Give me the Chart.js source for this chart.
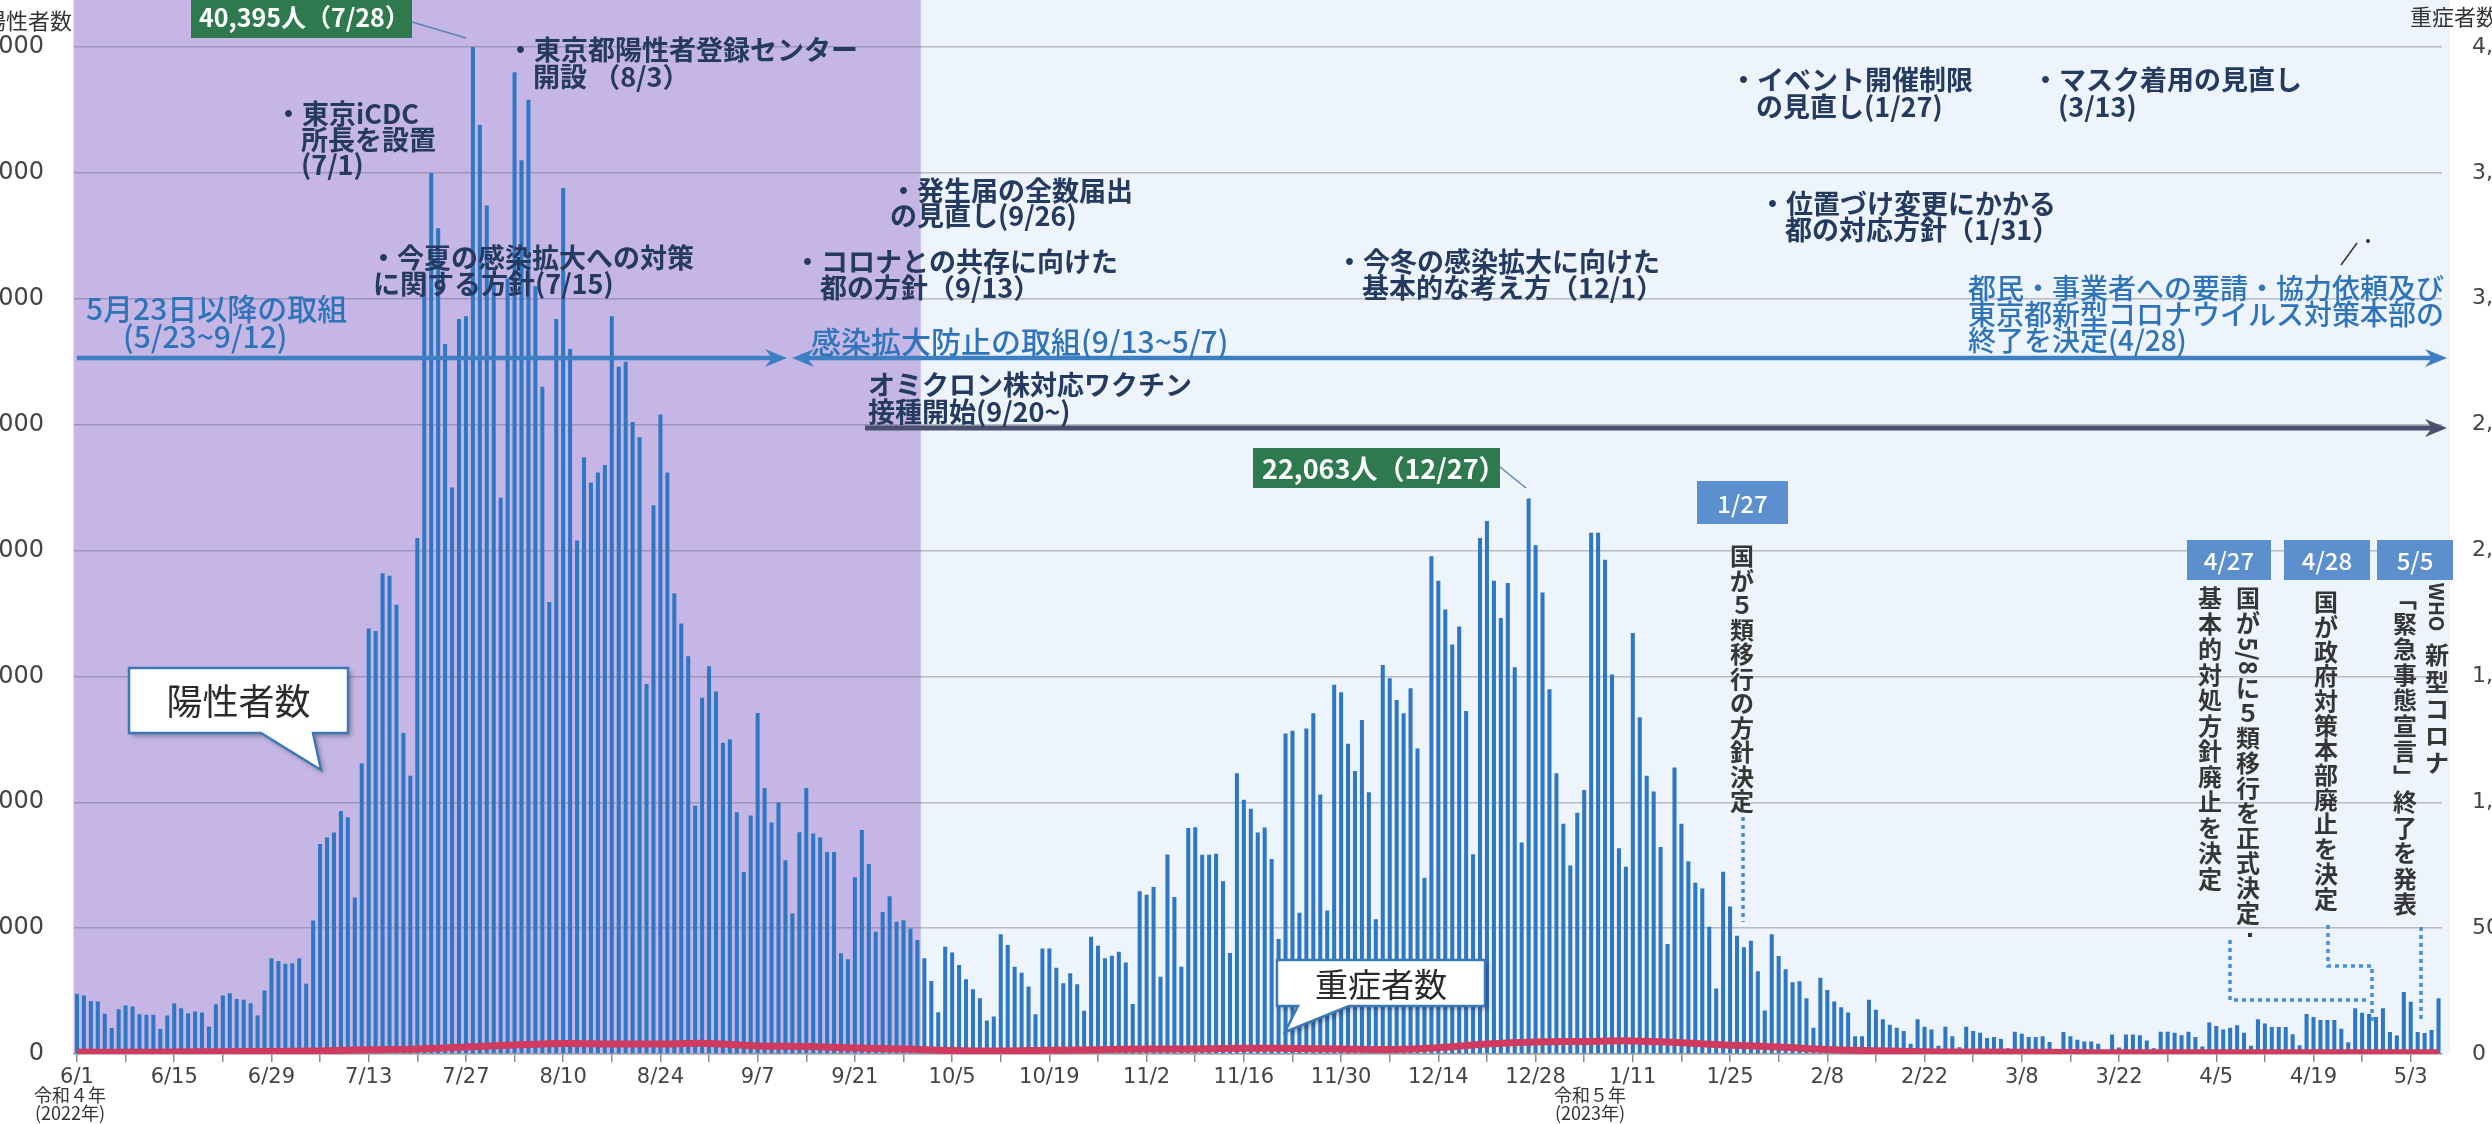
<!DOCTYPE html>
<html><head><meta charset="utf-8">
<script src="https://cdn.jsdelivr.net/npm/chart.js@4.4.0/dist/chart.umd.min.js"></script>
<style>
html,body{margin:0;padding:0;background:#fff;overflow:hidden;width:2492px;height:1124px;}
#wrap{position:relative;width:2492px;height:1124px;overflow:hidden;background:#fff;}
#c{position:absolute;left:-60px;top:0;}
</style></head><body>
<div id="wrap"><canvas id="c" width="2612" height="1124"></canvas></div>
<script>
// ---------- data ----------
const startDate = [2022, 6, 1];
const endDate = [2023, 5, 7];
const tickLabels = ['6/1','6/15','6/29','7/13','7/27','8/10','8/24','9/7','9/21','10/5','10/19','11/2','11/16','11/30','12/14','12/28','1/11','1/25','2/8','2/22','3/8','3/22','4/5','4/19','5/3'];

const posJun = [2390,2320,2110,2085,1600,1030,1780,1925,1890,1580,1560,1560,990,1530,2020,1820,1620,1690,1650,1095,1980,2320,2410,2180,2150,2020,1530,2520,3800,3690];
const posJul = [3580,3600,3800,2790,5300,8340,8600,8800,9650,9400,6220,11550,16900,16800,19100,19000,17850,12750,11050,20500,31000,35000,32800,28200,22500,29200,29300,40395,36900,33700,30600];
const posAug = [22100,30800,39000,35500,37900,30500,26500,17950,29200,34400,28000,20400,23700,22700,23100,23400,29300,27300,27500,25100,24500,14700,21800,25400,23100,18300,17100,15800,9860,14150,15400];
const posSep = [14400,12360,12500,9600,7230,9470,13550,10570,9200,9990,7700,5580,8810,10570,8760,8600,8020,8020,4000,3760,7020,8900,7550,4860,5645,6265,5250,5315,4985,4525];
const posOct = [3800,2900,1660,4260,4035,3535,2970,2570,2215,1330,1490,4760,4325,3470,3230,2680,1580,4195,4195,3430,2810,3205,2770,1715,4655,4300,3800,3900,4060,3630,1990];
const posNov = [6460,6330,6630,3070,7925,6240,3470,8980,9010,7910,7910,7950,6860,4010,11150,10100,9740,8800,9000,7750,4570,12730,12840,5610,12930,13540,10310,5700,14670,14370];
const posDec = [12320,11240,13270,10400,5350,15450,14930,14060,13540,14530,12140,7000,19770,18800,17660,16270,16980,13620,7930,20500,21170,18800,17320,18710,15360,8400,22063,20210,18330,14490,11150];
const posJan = [9150,7490,9580,10490,20710,20710,19630,15070,8170,7440,16720,13380,11050,10430,8220,4370,11380,9150,7660,6800,6570,5050,2600,7240,5860,4700,4240,4500,3290,1730,4760];
const posFeb = [3890,3370,2850,2890,2210,1040,3030,2540,2090,1860,1650,705,705,2150,1760,1380,1165,1045,910,405,1380,1085,975,325,1085,705,270,1085];
const posMar = [910,840,640,680,600,230,880,800,680,680,705,475,165,870,705,570,500,500,405,135,770,260,770,770,745,540,230,880,880,840,745];
const posApr = [880,680,300,1250,1110,975,1045,1140,840,325,1380,1210,1070,1070,1070,780,350,1590,1470,1350,1350,1350,1000,470,1820,1640,1590,1470,1820,870];
const posMay = [730,2460,2080,870,830,950,2210];

const severeDates  = ['6/1','6/8','6/15','6/22','6/29','7/6','7/13','7/20','7/27','8/3','8/10','8/17','8/24','8/31','9/7','9/14','9/21','9/28','10/5','10/12','10/19','10/26','11/2','11/9','11/16','11/23','11/30','12/7','12/14','12/21','12/28','1/4','1/11','1/18','1/25','2/1','2/8','2/15','2/22','3/1','3/8','3/15','3/22','3/29','4/5','4/12','4/19','4/26','5/3','5/7'];
const severeValues = [8,7,8,9,10,12,17,20,28,36,42,40,40,42,32,30,24,20,14,12,15,17,20,20,23,22,20,18,25,40,48,50,52,45,35,28,18,13,9,8,7,6,5,5,5,5,5,5,5,5];

// ---------- derived ----------
const labels = (() => {
  const out = [];
  const d = new Date(startDate[0], startDate[1]-1, startDate[2]);
  const e = new Date(endDate[0], endDate[1]-1, endDate[2]);
  while (d <= e) { out.push((d.getMonth()+1) + '/' + d.getDate()); d.setDate(d.getDate()+1); }
  return out;
})();
const positives = [].concat(posJun,posJul,posAug,posSep,posOct,posNov,posDec,posJan,posFeb,posMar,posApr,posMay);
const severePoints = severeDates.map((d,i) => ({x:d, y:severeValues[i]}));

const OFF = 60;            // canvas overhang to the left (axis labels are cropped like the scan)
const CW = 2612;
const PLOT_LEFT = 73.5, PLOT_RIGHT = 2442;
const X = x => x + OFF;
const JP = '"Noto Sans CJK JP", "Noto Sans CJK SC", sans-serif';

const annPlugin = {
  id: 'ann',
  beforeDraw(chart) {
    const {ctx, chartArea: a, scales: {x}} = chart;
    const bw = (a.right - a.left) / labels.length;
    const bx = x.getPixelForValue(labels.indexOf('10/1')) - bw/2;
    ctx.save();
    ctx.fillStyle = '#c5b6e5';
    ctx.fillRect(a.left, 0, bx - a.left, a.bottom);
    ctx.fillStyle = '#eef4fb';
    ctx.fillRect(bx, 0, a.right + 8 - bx, a.bottom);
    ctx.restore();
  },
  afterDraw(chart) {
    const ctx = chart.ctx;
    ctx.save();
    const text = (s, x, y, font, color, align) => {
      ctx.font = font; ctx.fillStyle = color; ctx.textAlign = align || 'left'; ctx.textBaseline = 'middle';
      ctx.fillText(s, X(x), y);
    };
    const vtext = (s, cx, y0, step, font, color) => {
      ctx.font = font; ctx.fillStyle = color; ctx.textAlign = 'center'; ctx.textBaseline = 'middle';
      [...s].forEach((ch, k) => ctx.fillText(ch, X(cx), y0 + k*step));
    };
    const rot = (s, cx, cy, font, color) => {
      ctx.save(); ctx.translate(X(cx), cy); ctx.rotate(Math.PI/2);
      ctx.font = font; ctx.fillStyle = color; ctx.textAlign = 'center'; ctx.textBaseline = 'middle';
      ctx.fillText(s, 0, 0); ctx.restore();
    };
    const arrow = (x1, x2, y, col, w, startHead, endHead) => {
      ctx.strokeStyle = col; ctx.fillStyle = col; ctx.lineWidth = w; ctx.lineCap = 'butt';
      ctx.beginPath(); ctx.moveTo(X(x1 + (startHead ? 12 : 0)), y); ctx.lineTo(X(x2 - (endHead ? 12 : 0)), y); ctx.stroke();
      if (endHead) { ctx.beginPath(); ctx.moveTo(X(x2), y); ctx.lineTo(X(x2-22), y-9); ctx.lineTo(X(x2-15), y); ctx.lineTo(X(x2-22), y+9); ctx.closePath(); ctx.fill(); }
      if (startHead) { ctx.beginPath(); ctx.moveTo(X(x1), y); ctx.lineTo(X(x1+22), y-9); ctx.lineTo(X(x1+15), y); ctx.lineTo(X(x1+22), y+9); ctx.closePath(); ctx.fill(); }
    };
    const dotted = (pts) => {
      ctx.strokeStyle = '#4a8fd6'; ctx.lineWidth = 3.5; ctx.setLineDash([4,4]);
      ctx.beginPath(); pts.forEach((p,k) => k ? ctx.lineTo(X(p[0]), p[1]) : ctx.moveTo(X(p[0]), p[1])); ctx.stroke();
      ctx.setLineDash([]);
    };
    const callout = (x1, y1, x2, y2, tb1, tb2, tx, ty, label, size) => {
      ctx.save();
      ctx.beginPath();
      ctx.moveTo(X(x1), y1); ctx.lineTo(X(x2), y1); ctx.lineTo(X(x2), y2);
      ctx.lineTo(X(tb2), y2); ctx.lineTo(X(tx), ty); ctx.lineTo(X(tb1), y2);
      ctx.lineTo(X(x1), y2); ctx.closePath();
      ctx.shadowColor = 'rgba(0,0,0,0.35)'; ctx.shadowBlur = 5; ctx.shadowOffsetX = 3; ctx.shadowOffsetY = 3;
      ctx.fillStyle = '#ffffff'; ctx.fill();
      ctx.shadowColor = 'transparent';
      ctx.strokeStyle = '#3c78b6'; ctx.lineWidth = 2.5; ctx.stroke();
      ctx.restore();
      text(label, (x1+x2)/2, (y1+y2)/2 + 1, size + 'px ' + JP, '#2a2a2a', 'center');
    };
    const dateBox = (s, x, y, w, h) => {
      ctx.fillStyle = '#5b8fcd'; ctx.fillRect(X(x), y, w, h);
      text(s, x + w/2, y + h/2 + 1, '500 24px ' + JP, '#ffffff', 'center');
    };

    // axis titles (cropped at the edges like the source)
    text('陽性者数', 72, 21, '22px ' + JP, '#333', 'right');
    text('重症者数', 2410, 17, '22px ' + JP, '#333', 'left');

    // era labels under the axis
    text('令和４年', 70, 1095, '18px ' + JP, '#333', 'center');
    text('(2022年)', 70, 1113, '18px ' + JP, '#333', 'center');
    text('令和５年', 1590, 1095, '18px ' + JP, '#333', 'center');
    text('(2023年)', 1590, 1113, '18px ' + JP, '#333', 'center');

    // arrows
    arrow(77, 787, 358, '#3d7fc2', 4.5, false, true);
    arrow(792, 2447, 358, '#3d7fc2', 4.5, true, true);
    arrow(865, 2447, 428, '#4a5070', 5, false, true);

    // navy bold notes
    const navy = '#243a5e', nf = 'bold 27px ' + JP;
    [
      ['・東京都陽性者登録センター', 507, 50], ['開設 （8/3）', 533, 77],
      ['・東京iCDC', 275, 114], ['所長を設置', 301, 140], ['(7/1)', 301, 165],
      ['・今夏の感染拡大への対策', 370, 258], ['に関する方針(7/15)', 373, 284],
      ['・発生届の全数届出', 890, 191], ['の見直し(9/26)', 890, 216],
      ['・コロナとの共存に向けた', 794, 262], ['都の方針（9/13）', 820, 288],
      ['・今冬の感染拡大に向けた', 1336, 262], ['基本的な考え方（12/1）', 1362, 288],
      ['オミクロン株対応ワクチン', 868, 385], ['接種開始(9/20~)', 868, 412],
      ['・イベント開催制限', 1730, 80], ['の見直し(1/27)', 1756, 107],
      ['・マスク着用の見直し', 2032, 80], ['(3/13)', 2058, 107],
      ['・位置づけ変更にかかる', 1759, 204], ['都の対応方針（1/31）', 1785, 230]
    ].forEach(([s,x,y]) => text(s, x, y, nf, navy));

    // blue notes
    const blueC = '#2f74b8';
    text('5月23日以降の取組', 86, 309, '500 30px ' + JP, blueC);
    text('(5/23~9/12)', 123, 337, '500 30px ' + JP, blueC);
    text('感染拡大防止の取組(9/13~5/7)', 811, 342, '500 30px ' + JP, blueC);
    text('都民・事業者への要請・協力依頼及び', 1968, 288, '500 28px ' + JP, blueC);
    text('東京都新型コロナウイルス対策本部の', 1968, 314, '500 28px ' + JP, blueC);
    text('終了を決定(4/28)', 1968, 340, '500 28px ' + JP, blueC);
    // small leader near the 4/28 note
    ctx.strokeStyle = '#333'; ctx.lineWidth = 1.5;
    ctx.beginPath(); ctx.moveTo(X(2341), 265); ctx.lineTo(X(2357), 243); ctx.stroke();
    ctx.fillStyle = '#333'; ctx.beginPath(); ctx.arc(X(2368), 241, 2, 0, Math.PI*2); ctx.fill();

    // peak labels
    ctx.fillStyle = '#2e7a4e'; ctx.fillRect(X(191), -2, 221, 40);
    text('40,395人（7/28）', 199, 17, 'bold 25px ' + JP, '#ffffff');
    ctx.strokeStyle = '#5b87b5'; ctx.lineWidth = 1.5;
    ctx.beginPath(); ctx.moveTo(X(412), 22); ctx.lineTo(X(466), 38); ctx.stroke();
    ctx.fillStyle = '#2e7a4e'; ctx.fillRect(X(1253), 448, 247, 40);
    text('22,063人（12/27）', 1262, 469, 'bold 27px ' + JP, '#ffffff');
    ctx.strokeStyle = '#5b87b5'; ctx.lineWidth = 1.5;
    ctx.beginPath(); ctx.moveTo(X(1500), 467); ctx.lineTo(X(1526), 488); ctx.stroke();

    // callouts
    callout(129, 668, 348, 733, 261, 313, 321, 770, '陽性者数', 36);
    callout(1277, 960, 1485, 1006, 1298, 1349, 1285, 1032, '重症者数', 33);

    // date boxes
    dateBox('1/27', 1697, 481, 91, 43);
    dateBox('4/27', 2187, 540, 84, 40);
    dateBox('4/28', 2284, 540, 86, 40);
    dateBox('5/5', 2377, 540, 76, 40);

    // vertical notes
    const vf = 'bold 24px ' + JP, vc = '#363636';
    vtext('国が５類移行の方針決定', 1742, 556, 24.5, vf, vc);
    vtext('国が', 2248, 598, 25, vf, vc);
    rot('5/8', 2248, 656, vf, vc);
    vtext('に５類移行を正式決定', 2248, 688, 25, vf, vc);
    vtext('基本的対処方針廃止を決定', 2210, 598, 25.5, vf, vc);
    vtext('国が政府対策本部廃止を決定', 2326, 602, 24.7, vf, vc);
    rot('WHO', 2437, 607, 'bold 20px ' + JP, vc);
    vtext('新型コロナ', 2437, 655, 27, vf, vc);
    vtext('﹁緊急事態宣言﹂終了を発表', 2405, 598, 25.5, vf, vc);
    ctx.fillStyle = '#333'; ctx.fillRect(X(2248), 933, 4, 4);

    // dotted leaders
    dotted([[1743, 817], [1743, 922]]);
    dotted([[2230, 940], [2230, 1000], [2367, 1000]]);
    dotted([[2328, 925], [2328, 966], [2372, 966], [2372, 1022]]);
    dotted([[2421, 927], [2421, 1019]]);

    ctx.restore();
  }
};

new Chart(document.getElementById('c'), {
  data: {
    labels: labels,
    datasets: [
      { type: 'line', label: '重症者数', data: severePoints, yAxisID: 'y2', borderColor: '#d03a5f', borderWidth: 7,
        pointRadius: 0, tension: 0.35, fill: false, order: 0 },
      { type: 'bar', label: '陽性者数', data: positives, yAxisID: 'y', backgroundColor: '#2f77c3',
        barPercentage: 0.58, categoryPercentage: 1.0, order: 1 }
    ]
  },
  options: {
    responsive: false, animation: false, events: [],
    layout: { padding: { top: 47, left: 0, right: 0, bottom: 0 } },
    plugins: { legend: { display: false }, tooltip: { enabled: false } },
    scales: {
      x: {
        type: 'category', offset: true,
        grid: { offset: false, drawOnChartArea: false, drawTicks: true, tickLength: 8, lineWidth: 1.5,
                color: c => (c.index % 7 === 0) ? '#8a8a8a' : 'rgba(0,0,0,0)' },
        border: { display: true, color: '#a0a0a0', width: 1.5 },
        ticks: { autoSkip: false, maxRotation: 0, minRotation: 0, padding: 3, color: '#444',
                 font: { family: 'DejaVu Sans', size: 21 },
                 callback: function(v) { const l = this.getLabelForValue(v); return tickLabels.includes(l) ? l : ''; } },
        afterFit: s => { s.height = 70; }
      },
      y: {
        position: 'left', min: 0, max: 40000,
        ticks: { stepSize: 5000, padding: 29.5, color: '#444', font: { family: 'DejaVu Sans', size: 24 },
                 callback: v => v.toLocaleString('en-US') },
        grid: { color: 'rgba(95,95,110,0.38)', lineWidth: 1.5, drawTicks: false },
        border: { display: false },
        afterFit: s => { s.width = PLOT_LEFT + OFF; }
      },
      y2: {
        position: 'right', min: 0, max: 4000,
        ticks: { stepSize: 500, padding: 30, color: '#444', font: { family: 'DejaVu Sans', size: 22 },
                 callback: v => v.toLocaleString('en-US') },
        grid: { display: false, drawTicks: false },
        border: { display: false },
        afterFit: s => { s.width = CW - (PLOT_RIGHT + OFF); }
      }
    }
  },
  plugins: [annPlugin]
});
</script>
</body></html>
